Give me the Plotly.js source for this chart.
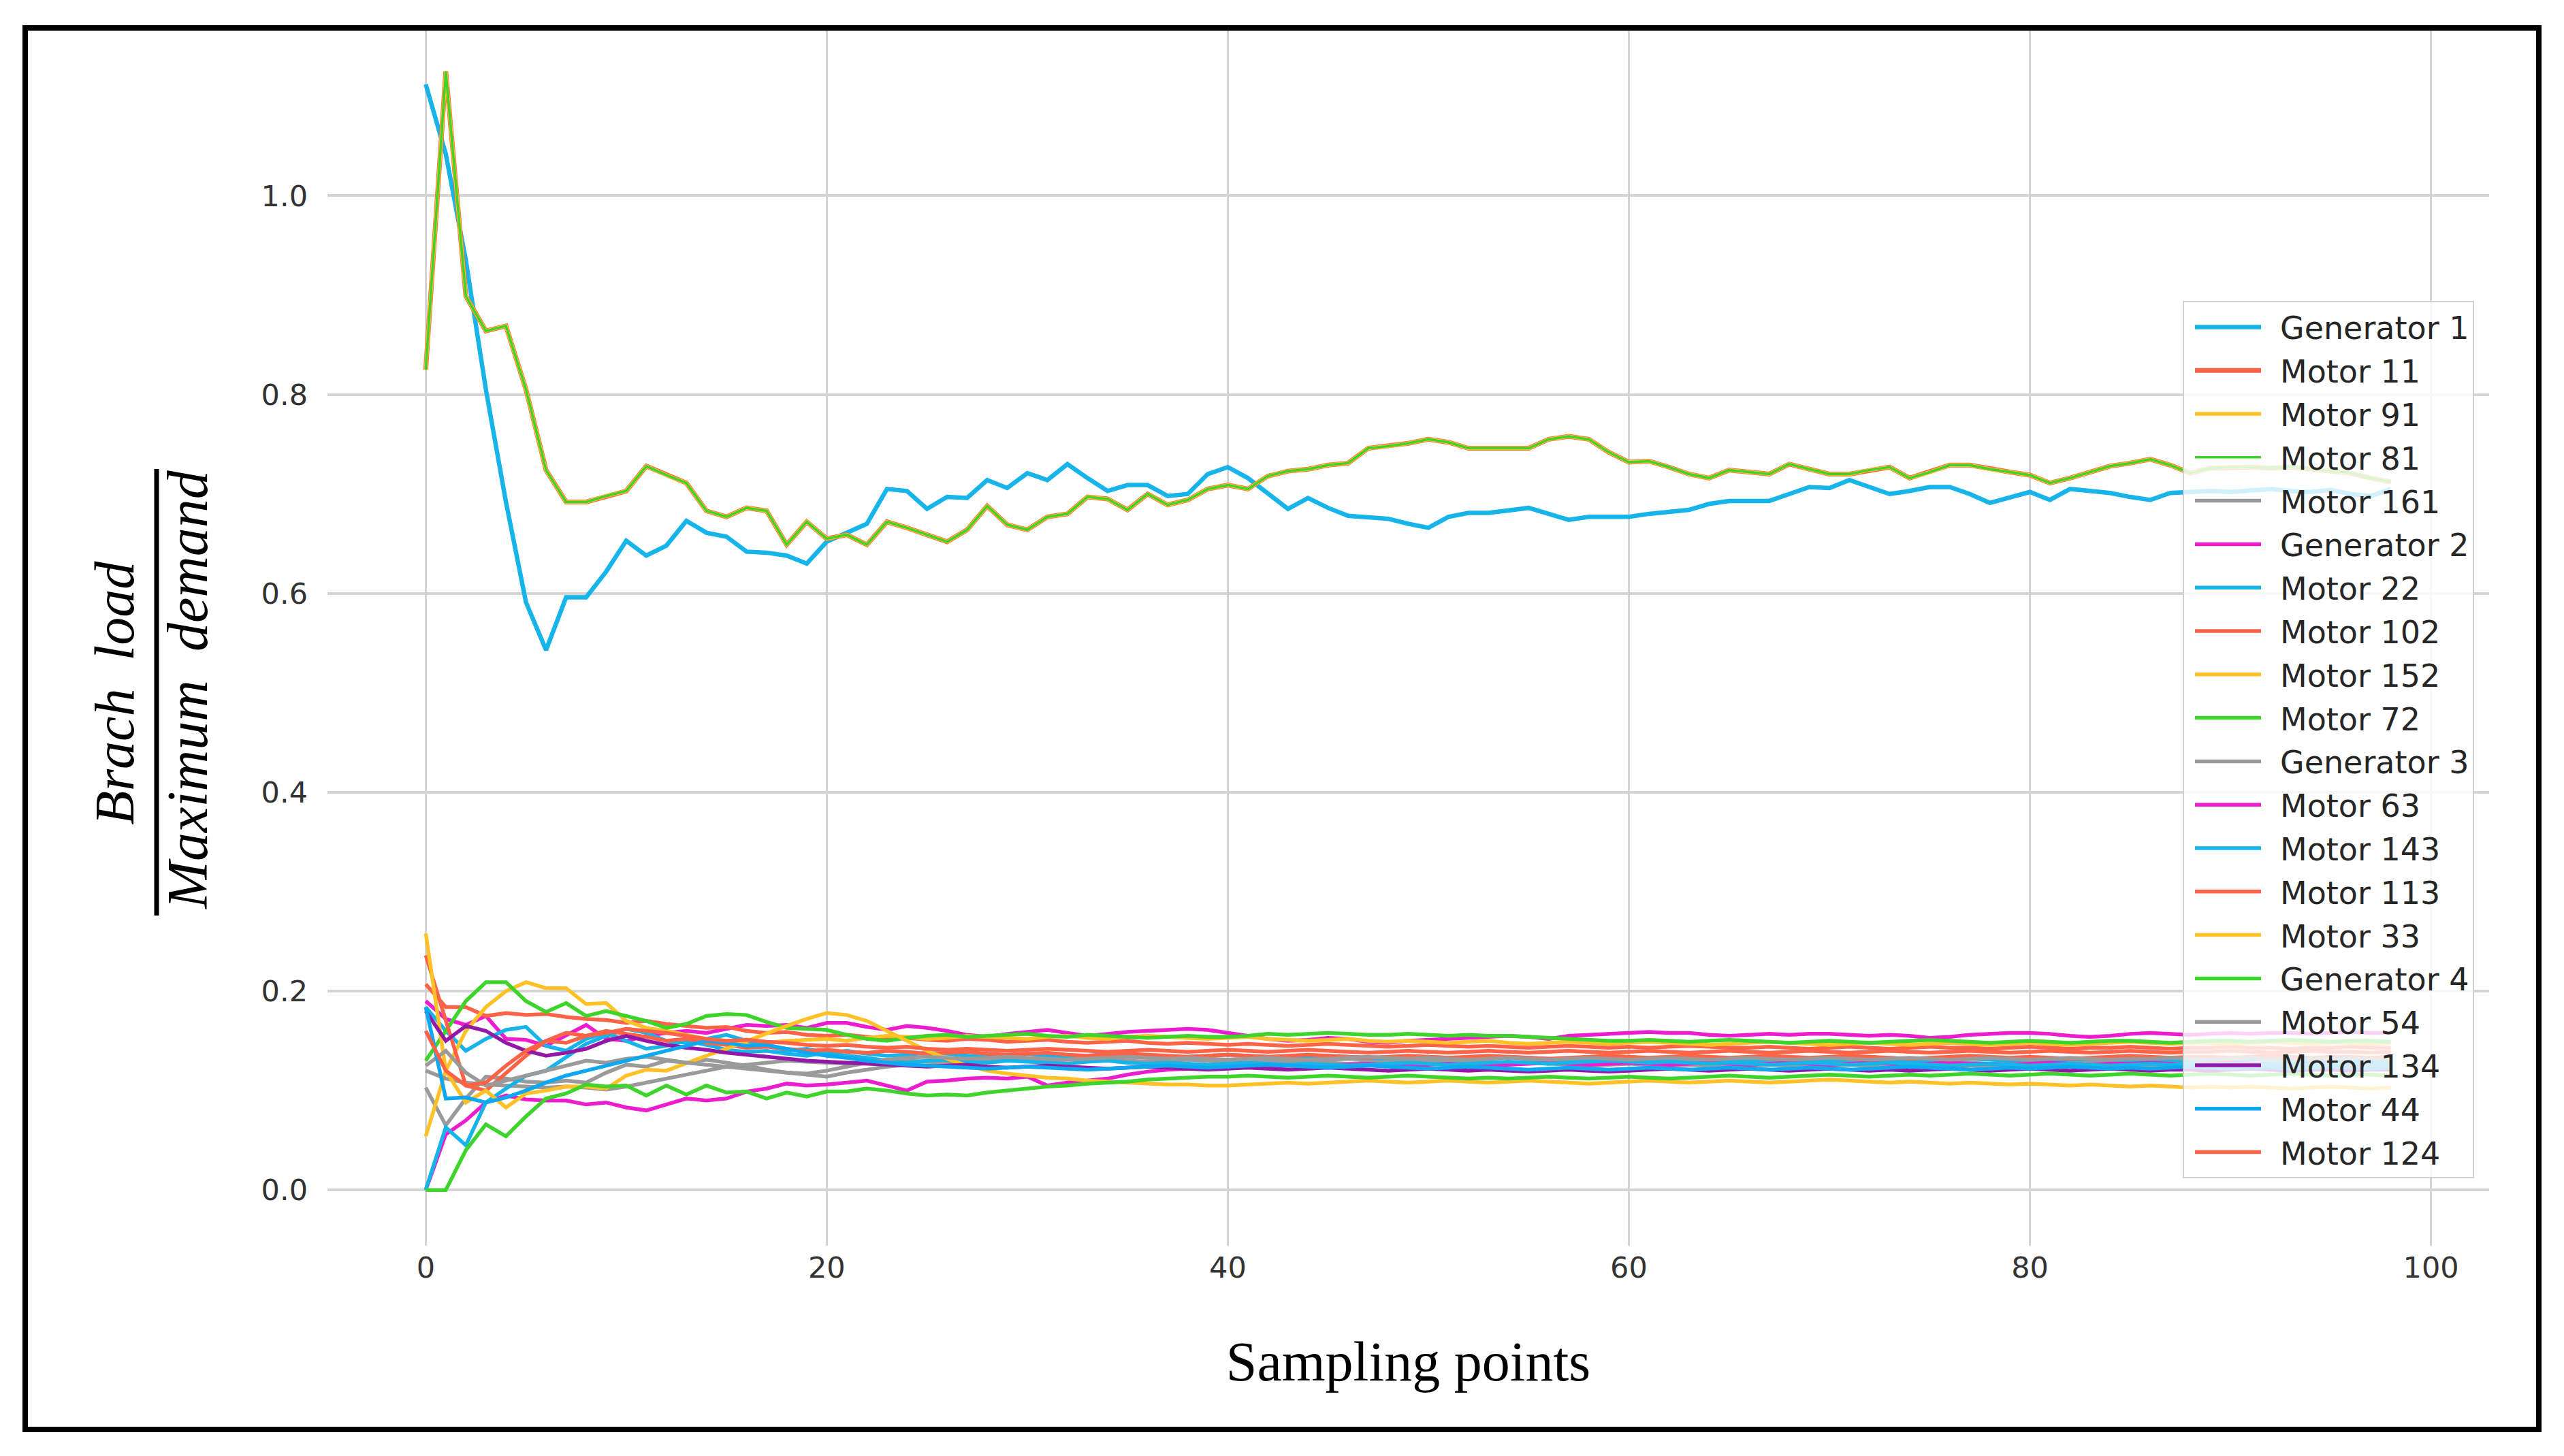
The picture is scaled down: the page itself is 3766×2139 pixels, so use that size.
<!DOCTYPE html>
<html>
<head>
<meta charset="utf-8">
<script src="https://cdn.plot.ly/plotly-3.0.1.min.js"></script>
<style>html,body{margin:0;padding:0;background:#fff;}</style>
</head>
<body>
<div id="chart" style="width:3766px;height:2139px;"></div>
<script>
// ---- Data ----
const samplingPoints = Array.from({length: 99}, (_, i) => i); // x = 0..98

const seriesNames = ["Generator 1","Motor 11","Motor 91","Motor 81","Motor 161",
  "Generator 2","Motor 22","Motor 102","Motor 152","Motor 72",
  "Generator 3","Motor 63","Motor 143","Motor 113","Motor 33",
  "Generator 4","Motor 54","Motor 134","Motor 44","Motor 124"];

const generator1 = [
1.112,1.042,0.935,0.805,0.692,0.591,0.543,0.596,0.596,0.622,
0.653,0.638,0.648,0.673,0.661,0.657,0.642,0.641,0.638,0.630,
0.652,0.661,0.670,0.705,0.703,0.685,0.697,0.696,0.714,0.706,
0.721,0.714,0.730,0.716,0.703,0.709,0.709,0.698,0.700,0.720,
0.727,0.716,0.700,0.685,0.696,0.686,0.678,0.677,0.675,0.670,
0.666,0.677,0.681,0.681,0.683,0.686,0.680,0.674,0.677,0.677,
0.677,0.680,0.682,0.684,0.690,0.693,0.693,0.693,0.700,0.707,
0.706,0.714,0.707,0.700,0.703,0.707,0.707,0.700,0.691,0.697,
0.702,0.694,0.705,0.703,0.701,0.697,0.694,0.701,0.702,0.703,
0.702,0.704,0.705,0.703,0.702,0.704,0.700,0.698,0.705];

// Motor 11, Motor 91 and Motor 81 lie on top of each other in the picture
const motor11_91_81 = [
0.825,1.125,0.899,0.864,0.869,0.805,0.724,0.692,0.692,0.698,
0.703,0.728,0.719,0.711,0.683,0.677,0.686,0.683,0.649,0.672,
0.655,0.659,0.649,0.672,0.666,0.659,0.652,0.664,0.688,0.669,
0.664,0.677,0.680,0.697,0.695,0.684,0.700,0.689,0.694,0.705,
0.709,0.705,0.718,0.723,0.725,0.729,0.731,0.746,0.748,0.751,
0.755,0.752,0.746,0.746,0.746,0.746,0.755,0.758,0.755,0.742,
0.732,0.733,0.727,0.720,0.716,0.724,0.722,0.720,0.730,0.725,
0.720,0.720,0.724,0.727,0.716,0.722,0.729,0.729,0.725,0.722,
0.719,0.711,0.716,0.722,0.728,0.731,0.735,0.729,0.721,0.726,
0.727,0.727,0.726,0.727,0.725,0.723,0.721,0.716,0.712];

const motor161 = [
0.103,0.065,0.092,0.114,0.112,0.109,0.108,0.110,0.108,0.118,
0.126,0.124,0.130,0.128,0.131,0.128,0.125,0.121,0.118,0.116,
0.114,0.118,0.121,0.124,0.126,0.125,0.127,0.129,0.131,0.133,
0.132,0.134,0.133,0.131,0.132,0.134,0.133,0.132,0.131,0.130,
0.131,0.132,0.130,0.129,0.130,0.131,0.132,0.131,0.130,0.129,
0.130,0.131,0.130,0.129,0.128,0.129,0.130,0.129,0.128,0.129,
0.128,0.129,0.130,0.129,0.128,0.127,0.128,0.129,0.128,0.127,
0.128,0.129,0.128,0.127,0.127,0.128,0.129,0.128,0.127,0.128,
0.128,0.127,0.128,0.129,0.128,0.127,0.127,0.128,0.128,0.129,
0.128,0.127,0.128,0.128,0.127,0.128,0.129,0.128,0.128];

const generator2 = [
0.190,0.172,0.166,0.175,0.152,0.151,0.145,0.155,0.166,0.152,
0.150,0.155,0.158,0.160,0.158,0.162,0.166,0.165,0.166,0.163,
0.168,0.168,0.164,0.161,0.165,0.163,0.160,0.156,0.154,0.157,
0.159,0.161,0.158,0.155,0.157,0.159,0.160,0.161,0.162,0.161,
0.158,0.155,0.152,0.150,0.151,0.153,0.152,0.149,0.148,0.150,
0.151,0.152,0.153,0.154,0.155,0.154,0.152,0.155,0.156,0.157,
0.158,0.159,0.158,0.158,0.156,0.155,0.156,0.157,0.156,0.157,
0.157,0.156,0.155,0.156,0.155,0.153,0.154,0.156,0.157,0.158,
0.158,0.157,0.155,0.154,0.155,0.157,0.158,0.157,0.156,0.157,
0.158,0.157,0.158,0.158,0.157,0.158,0.159,0.158,0.158];

const motor22 = [
0.184,0.160,0.140,0.152,0.161,0.164,0.145,0.140,0.152,0.158,
0.150,0.142,0.145,0.150,0.146,0.141,0.139,0.140,0.137,0.135,
0.138,0.140,0.137,0.135,0.136,0.138,0.137,0.135,0.134,0.136,
0.137,0.135,0.134,0.135,0.137,0.136,0.134,0.133,0.134,0.135,
0.136,0.135,0.134,0.133,0.134,0.135,0.134,0.133,0.132,0.133,
0.134,0.133,0.132,0.133,0.134,0.133,0.132,0.131,0.132,0.133,
0.132,0.131,0.132,0.133,0.132,0.131,0.130,0.131,0.132,0.131,
0.130,0.131,0.132,0.131,0.130,0.130,0.131,0.132,0.131,0.130,
0.131,0.130,0.131,0.132,0.131,0.130,0.131,0.130,0.131,0.131,
0.130,0.131,0.132,0.131,0.130,0.131,0.131,0.130,0.131];

const motor102 = [
0.207,0.184,0.184,0.175,0.178,0.176,0.177,0.174,0.172,0.171,
0.168,0.170,0.167,0.165,0.163,0.164,0.160,0.158,0.159,0.156,
0.155,0.156,0.154,0.152,0.153,0.151,0.150,0.152,0.151,0.149,
0.150,0.151,0.149,0.148,0.149,0.150,0.148,0.147,0.148,0.147,
0.146,0.147,0.146,0.145,0.146,0.147,0.146,0.145,0.144,0.145,
0.146,0.145,0.144,0.145,0.144,0.143,0.144,0.145,0.144,0.143,
0.144,0.143,0.144,0.145,0.144,0.143,0.143,0.144,0.143,0.142,
0.143,0.144,0.143,0.142,0.143,0.144,0.143,0.143,0.142,0.143,
0.144,0.143,0.142,0.143,0.143,0.144,0.143,0.142,0.143,0.143,
0.144,0.143,0.143,0.142,0.143,0.143,0.144,0.143,0.143];

const motor152 = [
0.054,0.120,0.160,0.184,0.200,0.209,0.203,0.203,0.187,0.188,
0.170,0.163,0.160,0.156,0.152,0.150,0.146,0.148,0.150,0.151,
0.152,0.150,0.153,0.155,0.154,0.152,0.153,0.155,0.154,0.153,
0.152,0.154,0.155,0.153,0.152,0.154,0.155,0.154,0.153,0.152,
0.153,0.154,0.152,0.151,0.150,0.151,0.152,0.150,0.149,0.150,
0.149,0.148,0.149,0.150,0.148,0.147,0.148,0.149,0.148,0.147,
0.148,0.149,0.148,0.147,0.146,0.147,0.148,0.149,0.148,0.147,
0.146,0.147,0.148,0.147,0.146,0.147,0.148,0.147,0.146,0.147,
0.148,0.147,0.146,0.147,0.148,0.149,0.148,0.147,0.148,0.148,
0.147,0.148,0.149,0.148,0.147,0.148,0.148,0.147,0.148];

const motor72 = [
0.130,0.160,0.190,0.209,0.209,0.190,0.179,0.188,0.175,0.180,
0.175,0.170,0.163,0.167,0.175,0.177,0.176,0.169,0.163,0.162,
0.161,0.156,0.152,0.150,0.153,0.155,0.156,0.154,0.155,0.156,
0.157,0.155,0.154,0.156,0.155,0.154,0.153,0.154,0.155,0.154,
0.154,0.155,0.157,0.156,0.157,0.158,0.157,0.156,0.156,0.157,
0.156,0.155,0.156,0.155,0.155,0.154,0.153,0.152,0.151,0.150,
0.150,0.151,0.150,0.149,0.150,0.151,0.150,0.149,0.148,0.149,
0.150,0.149,0.148,0.149,0.150,0.151,0.150,0.149,0.148,0.149,
0.150,0.149,0.148,0.149,0.150,0.150,0.149,0.148,0.149,0.150,
0.150,0.149,0.150,0.151,0.150,0.149,0.150,0.150,0.149];

const generator3 = [
0.120,0.112,0.108,0.106,0.105,0.104,0.103,0.104,0.103,0.101,
0.104,0.108,0.112,0.116,0.120,0.124,0.126,0.128,0.130,0.129,
0.128,0.127,0.129,0.131,0.130,0.129,0.128,0.130,0.131,0.132,
0.131,0.130,0.131,0.132,0.131,0.130,0.129,0.130,0.131,0.130,
0.129,0.128,0.129,0.130,0.129,0.128,0.127,0.128,0.129,0.128,
0.127,0.128,0.127,0.126,0.127,0.128,0.127,0.126,0.125,0.126,
0.127,0.126,0.125,0.126,0.125,0.124,0.125,0.126,0.125,0.124,
0.125,0.126,0.125,0.124,0.125,0.126,0.125,0.125,0.124,0.125,
0.126,0.125,0.124,0.125,0.125,0.126,0.125,0.124,0.125,0.125,
0.124,0.125,0.126,0.125,0.124,0.125,0.125,0.124,0.125];

const motor63 = [
0.000,0.056,0.070,0.088,0.095,0.091,0.090,0.090,0.086,0.088,
0.083,0.080,0.086,0.092,0.090,0.092,0.099,0.102,0.107,0.105,
0.106,0.108,0.110,0.105,0.100,0.109,0.110,0.112,0.113,0.112,
0.114,0.105,0.108,0.110,0.112,0.116,0.119,0.121,0.122,0.122,
0.123,0.124,0.124,0.125,0.126,0.125,0.126,0.127,0.126,0.125,
0.126,0.127,0.126,0.125,0.126,0.127,0.128,0.127,0.126,0.127,
0.128,0.127,0.126,0.127,0.128,0.127,0.126,0.127,0.128,0.127,
0.126,0.127,0.128,0.127,0.126,0.127,0.128,0.127,0.127,0.126,
0.127,0.128,0.127,0.126,0.127,0.127,0.128,0.127,0.126,0.127,
0.128,0.127,0.127,0.126,0.127,0.128,0.127,0.127,0.127];

const motor143 = [
0.000,0.063,0.045,0.088,0.102,0.115,0.120,0.133,0.147,0.155,
0.162,0.158,0.150,0.148,0.152,0.156,0.150,0.145,0.140,0.142,
0.138,0.135,0.133,0.130,0.128,0.130,0.131,0.129,0.128,0.130,
0.129,0.128,0.127,0.129,0.130,0.128,0.127,0.128,0.127,0.126,
0.127,0.128,0.127,0.126,0.127,0.126,0.125,0.126,0.127,0.128,
0.127,0.126,0.127,0.128,0.129,0.128,0.127,0.128,0.129,0.130,
0.129,0.128,0.129,0.128,0.127,0.128,0.127,0.126,0.127,0.128,
0.127,0.126,0.127,0.128,0.127,0.126,0.125,0.126,0.127,0.126,
0.125,0.126,0.127,0.126,0.125,0.126,0.127,0.126,0.127,0.126,
0.127,0.126,0.127,0.127,0.126,0.127,0.128,0.127,0.127];

const motor113 = [
0.236,0.170,0.105,0.100,0.118,0.135,0.150,0.158,0.155,0.160,
0.157,0.154,0.150,0.152,0.148,0.146,0.143,0.144,0.142,0.140,
0.141,0.139,0.138,0.140,0.139,0.137,0.138,0.139,0.137,0.136,
0.137,0.138,0.136,0.135,0.136,0.137,0.136,0.135,0.134,0.135,
0.136,0.135,0.134,0.135,0.136,0.135,0.134,0.133,0.134,0.135,
0.134,0.133,0.134,0.135,0.134,0.133,0.132,0.133,0.134,0.135,
0.134,0.133,0.134,0.135,0.134,0.133,0.134,0.135,0.134,0.133,
0.134,0.135,0.134,0.133,0.132,0.133,0.134,0.135,0.134,0.133,
0.134,0.133,0.132,0.133,0.134,0.135,0.134,0.133,0.134,0.134,
0.133,0.134,0.135,0.134,0.133,0.134,0.134,0.133,0.134];

const motor33 = [
0.258,0.120,0.088,0.100,0.083,0.097,0.100,0.104,0.104,0.102,
0.115,0.121,0.120,0.128,0.135,0.142,0.150,0.158,0.165,0.172,
0.178,0.176,0.170,0.160,0.150,0.140,0.132,0.125,0.120,0.117,
0.115,0.113,0.112,0.110,0.109,0.108,0.107,0.106,0.106,0.105,
0.105,0.106,0.107,0.108,0.107,0.108,0.109,0.110,0.109,0.108,
0.109,0.110,0.109,0.108,0.109,0.110,0.109,0.108,0.107,0.108,
0.109,0.110,0.109,0.108,0.109,0.110,0.109,0.108,0.109,0.110,
0.111,0.110,0.109,0.108,0.109,0.108,0.107,0.108,0.107,0.106,
0.107,0.106,0.105,0.106,0.105,0.104,0.105,0.104,0.103,0.104,
0.103,0.104,0.103,0.102,0.103,0.104,0.103,0.102,0.103];

const generator4 = [
0.000,0.000,0.040,0.066,0.054,0.074,0.092,0.097,0.106,0.104,
0.105,0.095,0.105,0.096,0.105,0.098,0.099,0.092,0.098,0.094,
0.099,0.099,0.102,0.100,0.097,0.095,0.096,0.095,0.098,0.100,
0.102,0.104,0.105,0.107,0.108,0.109,0.111,0.112,0.113,0.114,
0.114,0.115,0.114,0.113,0.114,0.115,0.114,0.113,0.114,0.115,
0.114,0.113,0.112,0.113,0.112,0.113,0.114,0.113,0.112,0.113,
0.114,0.113,0.112,0.113,0.114,0.115,0.114,0.113,0.114,0.115,
0.116,0.115,0.114,0.115,0.116,0.115,0.116,0.117,0.116,0.115,
0.116,0.117,0.116,0.115,0.116,0.117,0.116,0.115,0.116,0.117,
0.116,0.115,0.116,0.117,0.116,0.115,0.116,0.116,0.115];

const motor54 = [
0.125,0.140,0.118,0.105,0.110,0.115,0.120,0.125,0.130,0.128,
0.132,0.134,0.131,0.128,0.126,0.124,0.122,0.120,0.118,0.117,
0.120,0.124,0.128,0.131,0.133,0.134,0.133,0.132,0.133,0.134,
0.133,0.132,0.131,0.132,0.133,0.134,0.133,0.132,0.133,0.132,
0.131,0.132,0.133,0.132,0.131,0.132,0.133,0.134,0.133,0.132,
0.133,0.132,0.131,0.132,0.133,0.132,0.131,0.132,0.133,0.132,
0.131,0.132,0.133,0.132,0.131,0.132,0.133,0.132,0.131,0.132,
0.133,0.132,0.131,0.132,0.133,0.132,0.131,0.132,0.133,0.132,
0.131,0.132,0.133,0.132,0.131,0.132,0.132,0.133,0.132,0.131,
0.132,0.133,0.132,0.131,0.132,0.132,0.133,0.132,0.132];

const motor134 = [
0.180,0.150,0.165,0.160,0.148,0.140,0.135,0.138,0.142,0.150,
0.155,0.150,0.146,0.143,0.141,0.138,0.136,0.134,0.132,0.130,
0.129,0.128,0.127,0.126,0.125,0.124,0.125,0.126,0.124,0.123,
0.124,0.125,0.124,0.123,0.122,0.123,0.124,0.123,0.122,0.121,
0.122,0.123,0.122,0.121,0.122,0.123,0.122,0.121,0.120,0.121,
0.122,0.121,0.120,0.121,0.120,0.119,0.120,0.121,0.120,0.119,
0.120,0.121,0.122,0.121,0.120,0.121,0.122,0.121,0.120,0.121,
0.122,0.121,0.120,0.121,0.120,0.121,0.122,0.121,0.120,0.121,
0.122,0.121,0.120,0.121,0.122,0.121,0.120,0.121,0.121,0.120,
0.121,0.122,0.121,0.120,0.121,0.121,0.120,0.121,0.121];

const motor44 = [
0.184,0.092,0.093,0.088,0.093,0.100,0.108,0.115,0.120,0.125,
0.130,0.135,0.140,0.145,0.150,0.148,0.145,0.146,0.142,0.138,
0.135,0.133,0.130,0.128,0.126,0.125,0.124,0.123,0.122,0.123,
0.124,0.123,0.122,0.121,0.122,0.123,0.124,0.125,0.124,0.123,
0.124,0.125,0.126,0.125,0.124,0.123,0.124,0.125,0.124,0.123,
0.122,0.123,0.124,0.123,0.122,0.121,0.122,0.123,0.122,0.121,
0.122,0.123,0.122,0.121,0.122,0.123,0.122,0.121,0.122,0.123,
0.122,0.121,0.122,0.123,0.124,0.123,0.122,0.121,0.122,0.123,
0.122,0.123,0.124,0.123,0.122,0.123,0.122,0.123,0.124,0.123,
0.122,0.123,0.123,0.122,0.123,0.124,0.123,0.122,0.123];

const motor124 = [
0.160,0.120,0.105,0.108,0.125,0.140,0.150,0.148,0.155,0.158,
0.162,0.160,0.158,0.155,0.152,0.150,0.151,0.149,0.148,0.146,
0.145,0.146,0.144,0.143,0.144,0.142,0.141,0.142,0.141,0.140,
0.141,0.142,0.141,0.140,0.139,0.140,0.141,0.140,0.139,0.140,
0.141,0.140,0.139,0.140,0.141,0.140,0.139,0.138,0.139,0.140,
0.139,0.138,0.139,0.140,0.139,0.138,0.139,0.140,0.139,0.138,
0.139,0.140,0.139,0.138,0.139,0.140,0.139,0.138,0.139,0.140,
0.139,0.138,0.139,0.140,0.139,0.138,0.139,0.140,0.139,0.138,
0.139,0.140,0.139,0.138,0.139,0.140,0.139,0.138,0.139,0.139,
0.140,0.139,0.138,0.139,0.140,0.139,0.139,0.138,0.139];

const yTickValues = [0.0, 0.2, 0.4, 0.6, 0.8, 1.0];
const xTickValues = [0, 20, 40, 60, 80, 100];

// ---- Styling ----
const CYAN = '#17b4ea', TOMATO = '#ff6347', GOLD = '#ffc125', GREEN = '#3ed42c',
      GRAY = '#9a9a9a', MAGENTA = '#ee1ccf', PURPLE = '#9418a8', BLUE = '#0ea8f0';

const seriesValues = [generator1, motor11_91_81, motor11_91_81, motor11_91_81, motor161,
  generator2, motor22, motor102, motor152, motor72,
  generator3, motor63, motor143, motor113, motor33,
  generator4, motor54, motor134, motor44, motor124];
const seriesColors = [CYAN, TOMATO, GOLD, GREEN, GRAY,
  MAGENTA, CYAN, TOMATO, GOLD, GREEN,
  GRAY, MAGENTA, CYAN, TOMATO, GOLD,
  GREEN, GRAY, PURPLE, BLUE, TOMATO];
// overlapping top lines: wider ones underneath so their edges show (olive look)
const seriesWidths = [6.5, 7, 5.5, 3.5, 5.5, 5.5, 5.5, 5.5, 5.5, 5.5, 5.5, 5.5, 5.5, 5.5, 5.5, 5.5, 5.5, 5.5, 5.5, 5.5];

const traces = seriesNames.map((name, i) => ({
  type: 'scatter', mode: 'lines', name: '\u2002' + name,
  x: samplingPoints, y: seriesValues[i],
  legendgroup: 'g' + i,
  line: {color: seriesColors[i], width: seriesWidths[i]}
}));

// pixel helpers for paper coords (plot area: l=481, t=45, w=3175, h=1785)
const L = 481, T = 45, W = 3175, H = 1785;
const px = v => (v - L) / W;
const py = v => (T + H - v) / H;

const serif = 'Liberation Serif, Times New Roman, serif';

const layout = {
  width: 3766, height: 2139,
  margin: {l: L, r: 3766 - L - W, t: T, b: 2139 - T - H, pad: 0},
  paper_bgcolor: '#ffffff', plot_bgcolor: '#ffffff',
  font: {family: 'DejaVu Sans, sans-serif', color: '#333333'},
  xaxis: {
    range: [-4.9, 102.9], tickvals: xTickValues, ticks: '', showline: false, zeroline: false,
    showgrid: true, gridcolor: '#d4d4d4', gridwidth: 3,
    tickfont: {family: 'DejaVu Sans, sans-serif', size: 43, color: '#333333'},
    ticklabelstandoff: 3,
    title: {text: 'Sampling points', font: {family: serif, size: 82, color: '#000000'}, standoff: 84}
  },
  yaxis: {
    range: [-0.056, 1.166], tickvals: yTickValues, tickformat: '.1f', ticks: '', showline: false, zeroline: false,
    showgrid: true, gridcolor: '#d4d4d4', gridwidth: 4,
    tickfont: {family: 'DejaVu Sans, sans-serif', size: 43, color: '#333333'},
    ticklabelstandoff: 28
  },
  legend: {
    x: px(3206), y: py(442), xanchor: 'left', yanchor: 'top',
    bgcolor: 'rgba(255,255,255,0.8)', bordercolor: '#d0d0d0', borderwidth: 2,
    font: {family: 'DejaVu Sans, sans-serif', size: 46, color: '#262626'},
    itemwidth: 97, indentation: 11, tracegroupgap: 1, traceorder: 'grouped'
  },
  annotations: [
    {xref: 'paper', yref: 'paper', x: px(168), y: py(1018), xanchor: 'center', yanchor: 'middle',
     text: '<i>Brach\u00a0 load</i>', textangle: -90, showarrow: false,
     font: {family: serif, size: 82, color: '#000000'}},
    {xref: 'paper', yref: 'paper', x: px(275), y: py(1013), xanchor: 'center', yanchor: 'middle',
     text: '<i>Maximum\u00a0 demand</i>', textangle: -90, showarrow: false,
     font: {family: serif, size: 84, color: '#000000'}}
  ],
  shapes: [
    {type: 'line', xref: 'paper', yref: 'paper', x0: px(230), x1: px(230), y0: py(689), y1: py(1345),
     line: {color: '#000000', width: 7}},
    {type: 'rect', xref: 'paper', yref: 'paper', x0: px(37), x1: px(3729), y0: py(2100), y1: py(41),
     line: {color: '#000000', width: 8}, fillcolor: 'rgba(0,0,0,0)'}
  ]
};

Plotly.newPlot('chart', traces, layout, {displayModeBar: false, staticPlot: true});
</script>
</body>
</html>
